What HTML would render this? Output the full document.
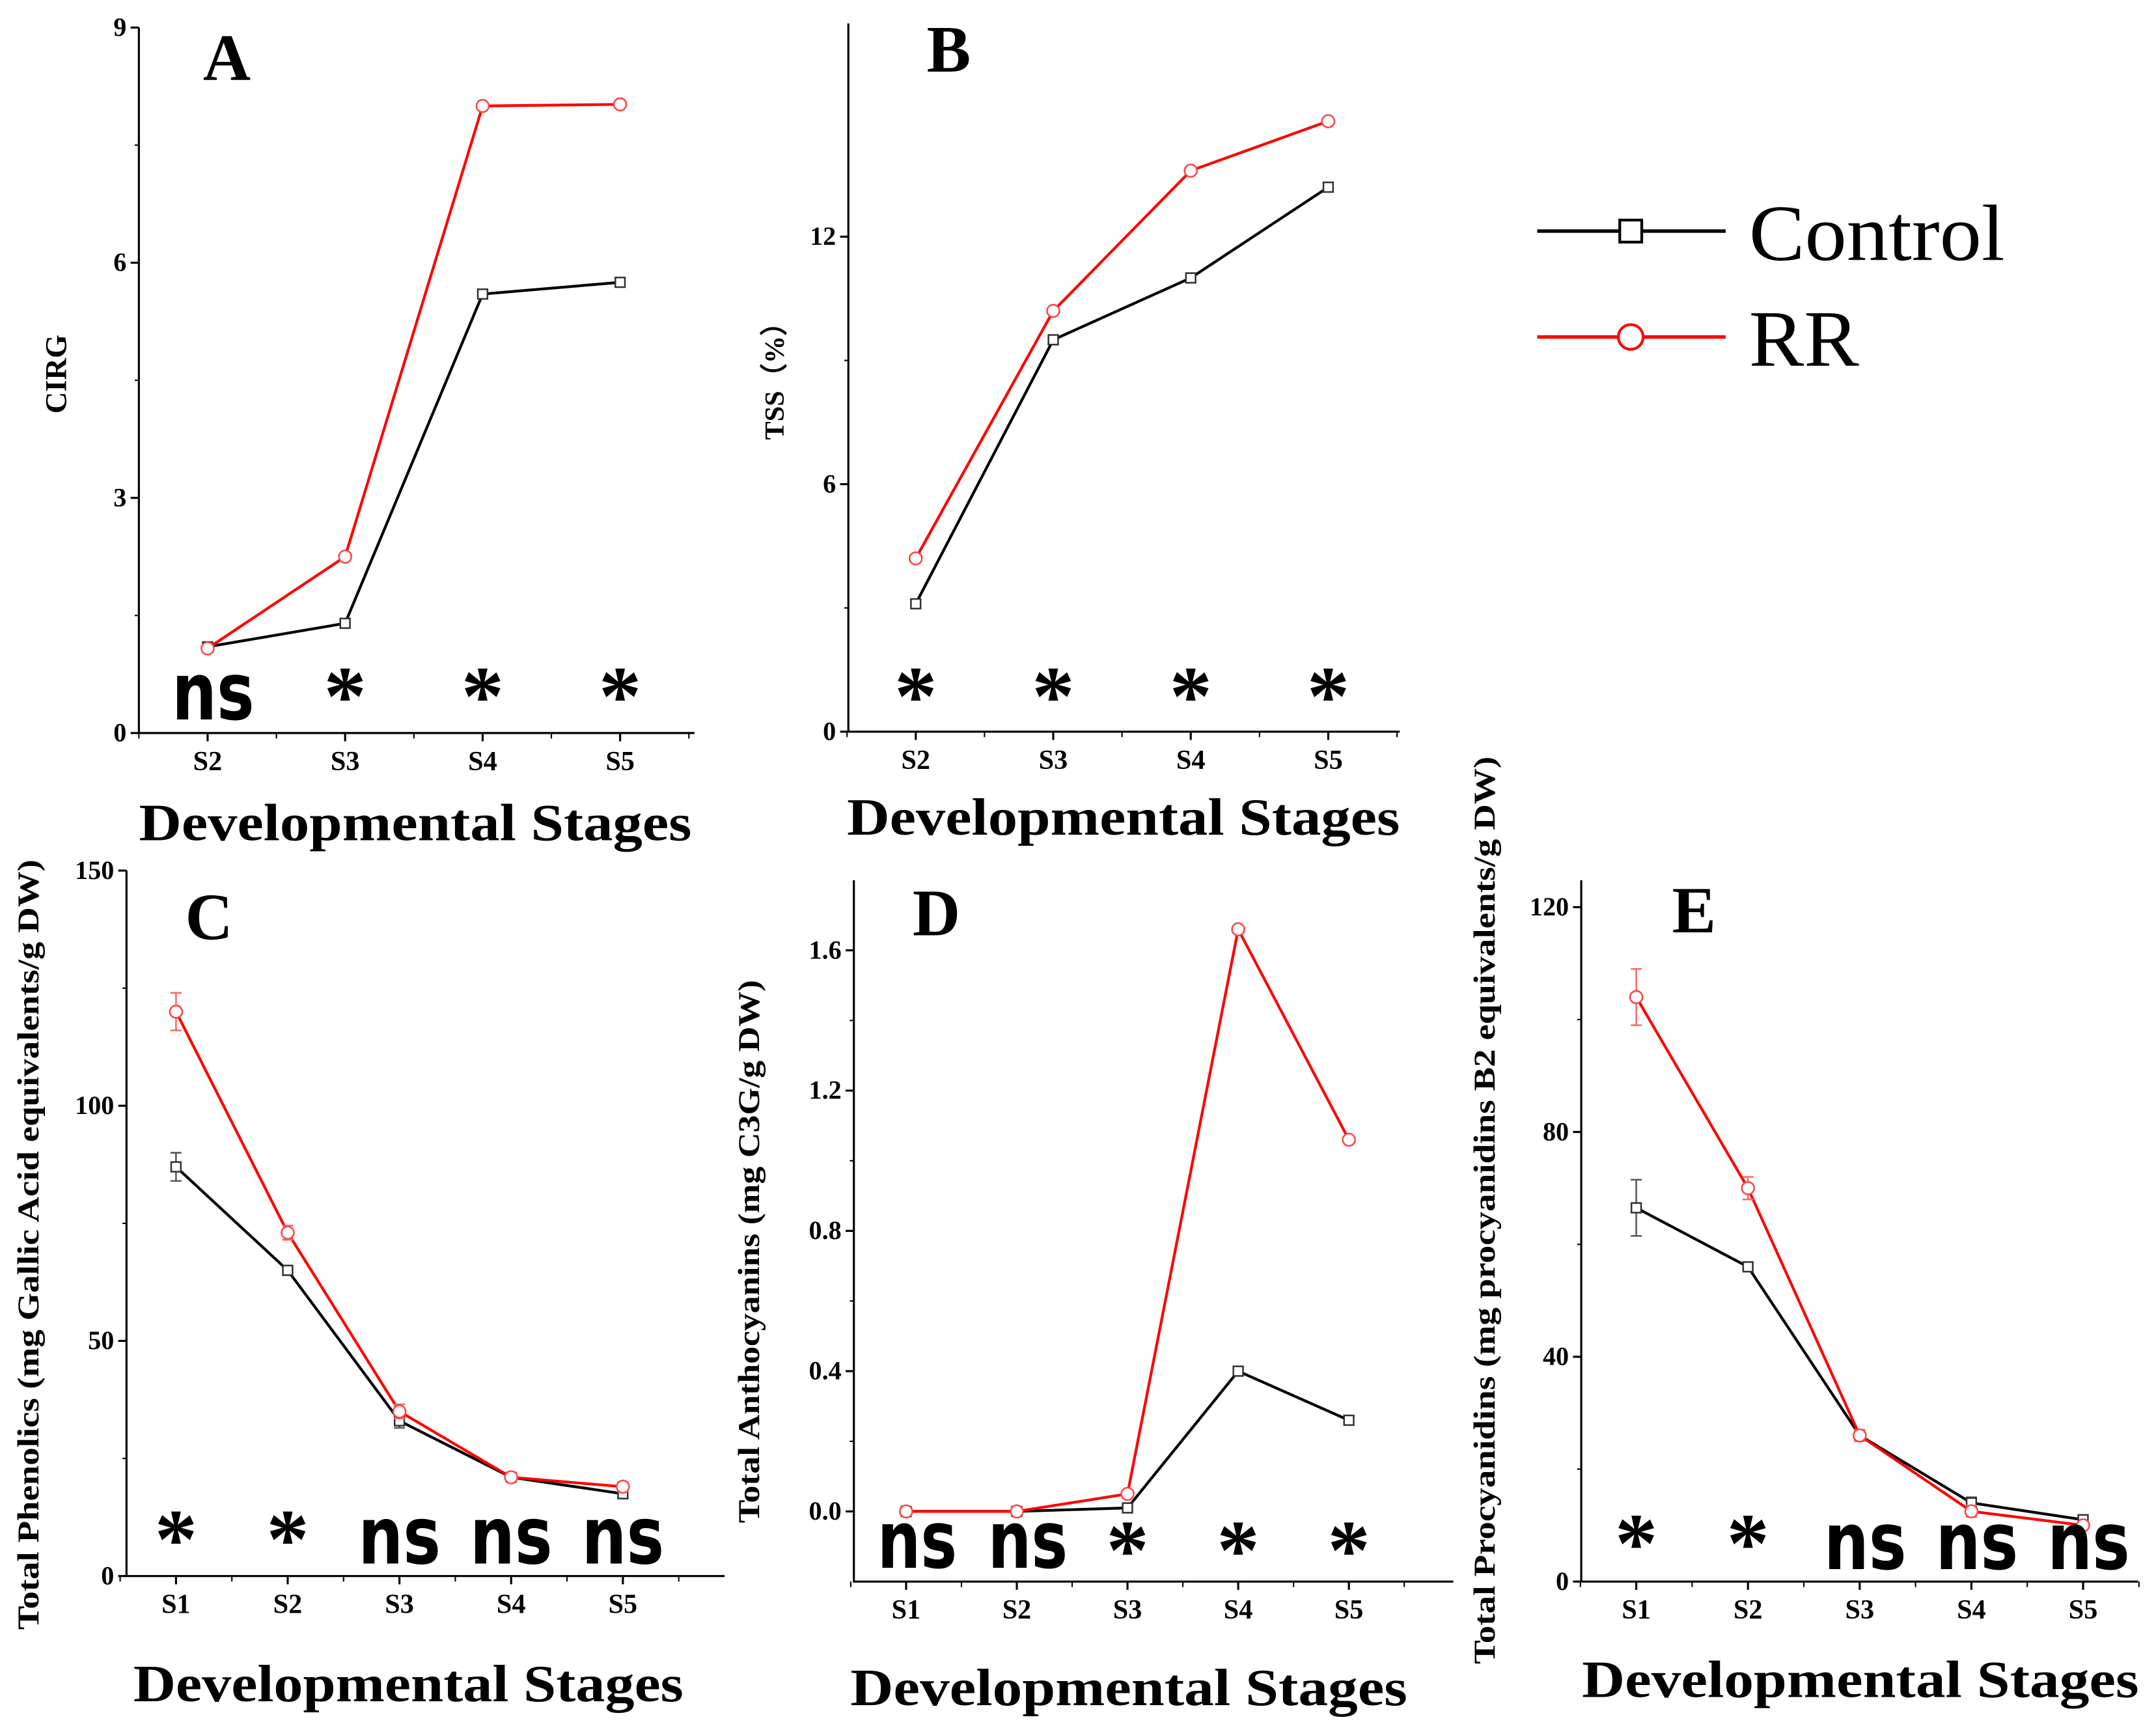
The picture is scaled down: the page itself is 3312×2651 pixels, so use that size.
<!DOCTYPE html>
<html><head><meta charset="utf-8"><style>
html,body{margin:0;padding:0;background:#fff;}
svg{display:block;}
text{font-family:"Liberation Serif",serif;font-weight:bold;fill:#000;}
.ns{font-family:"DejaVu Sans","Liberation Sans",sans-serif;}
</style></head><body>
<svg id="fig" width="3312" height="2651" viewBox="0 0 1568 1255" xmlns="http://www.w3.org/2000/svg">
<g>
<line x1="1118" y1="168" x2="1255" y2="168" stroke="#000" stroke-width="2.5"/>
<rect x="1178" y="160" width="16" height="16" fill="#fff" stroke="#000" stroke-width="2"/>
<text x="1272" y="189" font-size="58" textLength="186" lengthAdjust="spacingAndGlyphs" style="font-weight:normal">Control</text>
<line x1="1118" y1="245" x2="1255" y2="245" stroke="#f00" stroke-width="2.5"/>
<circle cx="1186" cy="245" r="9" fill="#fff" stroke="#f00" stroke-width="2"/>
<text x="1272" y="266" font-size="58" textLength="80" lengthAdjust="spacingAndGlyphs" style="font-weight:normal">RR</text>
</g>
</svg>
<script>
const catsA=["S2","S3","S4","S5"];
const ctrlA=[1.1,1.4,5.6,5.75];
const rrA=[1.08,2.25,8.0,8.02];
const sigA=["ns","*","*","*"];
const ticksA=[0,3,6,9];
const catsB=["S2","S3","S4","S5"];
const ctrlB=[3.1,9.5,11.0,13.2];
const rrB=[4.2,10.2,13.6,14.8];
const sigB=["*","*","*","*"];
const ticksB=[0,6,12];
const catsC=["S1","S2","S3","S4","S5"];
const ctrlC=[87,65,33,21,17.5];
const rrC=[120,73,35,21,19];
const errCtrlC=[3,1,1.5,1,1];
const errRrC=[4,1.5,1.5,1,1];
const sigC=["*","*","ns","ns","ns"];
const ticksC=[0,50,100,150];
const catsD=["S1","S2","S3","S4","S5"];
const ctrlD=[0,0,0.01,0.4,0.26];
const rrD=[0,0,0.05,1.66,1.06];
const sigD=["ns","ns","*","*","*"];
const ticksD=[0.0,0.4,0.8,1.2,1.6];
const catsE=["S1","S2","S3","S4","S5"];
const ctrlE=[66.5,56,26,14,11];
const rrE=[104,70,26,12.5,10];
const errCtrlE=[5,0.5,1,1,0.5];
const errRrE=[5,2,1,1,0.5];
const sigE=["*","*","ns","ns","ns"];
const ticksE=[0,40,80,120];

const NS="http://www.w3.org/2000/svg";
const svg=document.getElementById('fig');
function mk(tag,attrs,parent){const e=document.createElementNS(NS,tag);for(const k in attrs)e.setAttribute(k,attrs[k]);(parent||svg).appendChild(e);return e;}

function panel(o){
  const g=mk('g',{});
  
  
  const y=v=>o.y0-(v-o.ymin)/(o.ymax-o.ymin)*(o.y0-o.ytop);
  const x=i=>o.x1st+i*o.dx;
  const ax=mk('path',{d:`M${o.ax} ${o.ytop}V${o.y0}H${o.axEnd}`,fill:'none',stroke:'#000','stroke-width':1.5},g);
  
  
  o.ticks.forEach(t=>{
    mk('line',{x1:o.ax-6,x2:o.ax,y1:y(t),y2:y(t),stroke:'#000','stroke-width':1.5},g);
    const tl=mk('text',{x:o.ax-9,y:y(t)+6,'font-size':19,'text-anchor':'end'},g);
    tl.textContent=o.fmt?o.fmt(t):t;
    
    
  });
  for(let i=0;i<o.ticks.length-1;i++){const m=(o.ticks[i]+o.ticks[i+1])/2;mk('line',{x1:o.ax-3,x2:o.ax,y1:y(m),y2:y(m),stroke:'#000','stroke-width':1},g);}
  o.cats.forEach((c,i)=>{
    mk('line',{x1:x(i),x2:x(i),y1:o.y0,y2:o.y0+6,stroke:'#000','stroke-width':1.5},g);
    mk('line',{x1:x(i)+o.dx/2,x2:x(i)+o.dx/2,y1:o.y0,y2:o.y0+4,stroke:'#000','stroke-width':1},g);
    const tl=mk('text',{x:x(i),y:o.y0+27,'font-size':20,'text-anchor':'middle'},g);
    tl.textContent=c;
    
    
  });
  mk('line',{x1:x(0)-o.dx/2,x2:x(0)-o.dx/2,y1:o.y0,y2:o.y0+4,stroke:'#000','stroke-width':1},g);
  const xt=mk('text',{x:o.xtX,y:o.xtY,'font-size':38,'text-anchor':'middle',textLength:o.xtLen,lengthAdjust:'spacingAndGlyphs'},g);
  xt.textContent='Developmental Stages';
  
  
  const yt=mk('text',{transform:`translate(${o.ytX},${o.ytY}) rotate(-90)`,'font-size':o.ytSize,'text-anchor':'middle',textLength:o.ytLen||'',lengthAdjust:'spacingAndGlyphs'},g);
  if(!o.ytLen)yt.removeAttribute('textLength');
  yt.textContent=o.ytitle;
  
  
  const lab=mk('text',{x:o.labX,y:o.labY,'font-size':48,'text-anchor':'middle'},g);
  lab.textContent=o.id;
  
  
  [[o.ctrl,'#000',o.eCtrl],[o.rr,'#f00',o.eRr]].forEach(([vals,col,err],si)=>{
    const pl=mk('polyline',{points:vals.map((v,i)=>x(i)+','+y(v)).join(' '),fill:'none',stroke:col,'stroke-width':2},g);
    
    
    vals.forEach((v,i)=>{
      if(err&&err[i]>0.6){
        const e1=y(v+err[i]),e2=y(v-err[i]);
        mk('path',{d:`M${x(i)} ${e1}V${e2}M${x(i)-4} ${e1}h8M${x(i)-4} ${e2}h8`,stroke:si?'#f66':'#555','stroke-width':1.2,fill:'none'},g);
      }
      let m;
      if(si){m=mk('circle',{cx:x(i),cy:y(v),r:4.5,fill:'#fff',stroke:'#f44','stroke-width':1.2},g);}
      else{m=mk('rect',{x:x(i)-3.5,y:y(v)-3.5,width:7,height:7,fill:'#fff',stroke:'#333','stroke-width':1.2},g);}
      
      
    });
  });
  o.sig.forEach((s,i)=>{
    const isNs=s==='ns';
    const t=mk('text',{x:x(i)+(isNs?(o.nsOff||0):0),y:isNs?o.nsY:o.stY,'font-size':isNs?o.nsSize:62,'text-anchor':'middle',class:isNs?'ns':''},g);
    if(isNs){t.setAttribute('textLength',o.nsLen);t.setAttribute('lengthAdjust','spacingAndGlyphs');}
    t.textContent=s;
    
    
  });
}
panel({id:'A',cats:catsA,ctrl:ctrlA,rr:rrA,sig:sigA,ticks:ticksA,ax:101,ytop:20,y0:533,ymin:0,ymax:9,x1st:151,dx:100,axEnd:505,
 xtX:302,xtY:611,xtLen:402,ytitle:'CIRG',ytX:48,ytY:272,ytSize:22,labX:165,labY:58,nsY:523,stY:527,nsSize:58,nsLen:60,nsOff:4});
panel({id:'B',cats:catsB,ctrl:ctrlB,rr:rrB,sig:sigB,ticks:ticksB,ax:617,ytop:17,y0:532,ymin:0,ymax:17.17,x1st:666,dx:100,axEnd:1018,
 xtX:817,xtY:607,xtLen:402,ytitle:'TSS（%）',ytX:570,ytY:272,ytSize:20,labX:690,labY:52,nsY:520,stY:527,nsSize:58,nsLen:60});
panel({id:'C',cats:catsC,ctrl:ctrlC,rr:rrC,eCtrl:errCtrlC,eRr:errRrC,sig:sigC,ticks:ticksC,ax:92,ytop:633,y0:1146,ymin:0,ymax:150,x1st:128,dx:81.25,axEnd:527,
 xtX:297,xtY:1237,xtLen:400,ytitle:'Total Phenolics (mg Gallic Acid equivalents/g DW)',ytX:28,ytY:905,ytSize:22,ytLen:560,labX:152,labY:683,nsY:1137,stY:1140,nsSize:58,nsLen:60});
panel({id:'D',cats:catsD,ctrl:ctrlD,rr:rrD,sig:sigD,ticks:ticksD,ax:621,ytop:640,y0:1150,ymin:-0.2,ymax:1.8,x1st:659,dx:80.5,axEnd:1057,
 fmt:t=>t.toFixed(1),xtX:821,xtY:1240,xtLen:405,ytitle:'Total Anthocyanins (mg C3G/g DW)',ytX:552,ytY:910,ytSize:22,ytLen:395,labX:681,labY:680,nsY:1140,stY:1148,nsSize:58,nsLen:58,nsOff:8});
panel({id:'E',cats:catsE,ctrl:ctrlE,rr:rrE,eCtrl:errCtrlE,eRr:errRrE,sig:sigE,ticks:ticksE,ax:1150,ytop:640,y0:1150,ymin:0,ymax:124.8,x1st:1190,dx:81.25,axEnd:1555,
 xtX:1353,xtY:1234,xtLen:405,ytitle:'Total Procyanidins (mg procyanidins B2 equivalents/g DW)',ytX:1087,ytY:880,ytSize:22,ytLen:660,labX:1232,labY:678,nsY:1141,stY:1143,nsSize:58,nsLen:60,nsOff:4});
</script>
</body></html>
